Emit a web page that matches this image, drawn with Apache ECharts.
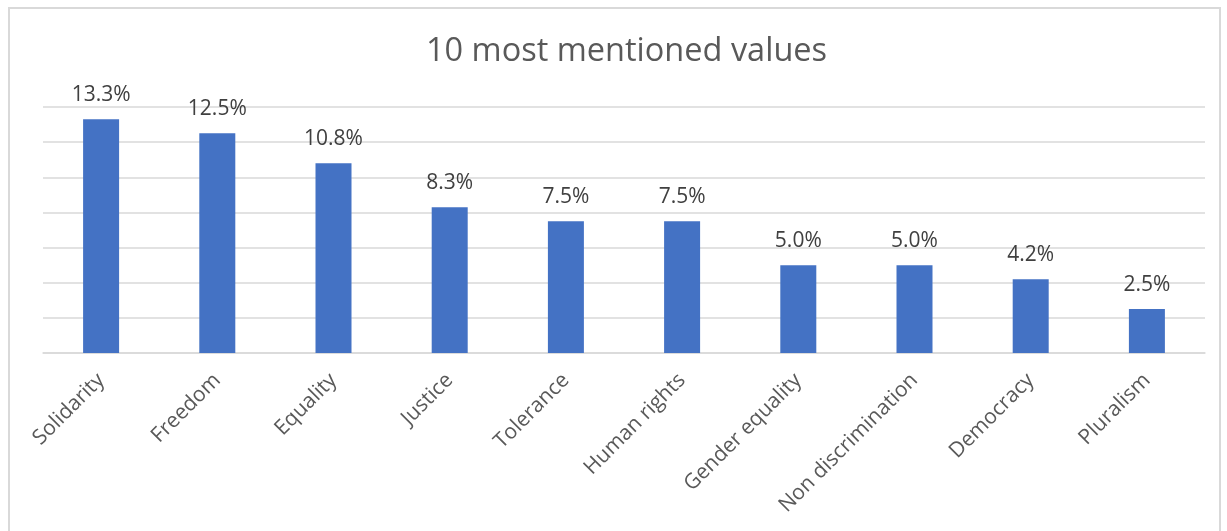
<!DOCTYPE html>
<html>
<head>
<meta charset="utf-8">
<script src="https://cdn.jsdelivr.net/npm/echarts@6/dist/echarts.min.js"></script>
<style>
html,body{margin:0;padding:0;background:#fff;}
#chart{width:1227px;height:531px;}
</style>
</head>
<body>
<div id="chart"></div>
<script>
const title = "10 most mentioned values";
const categories = ["Solidarity","Freedom","Equality","Justice","Tolerance","Human rights","Gender equality","Non discrimination","Democracy","Pluralism"];
const values = [13.3, 12.5, 10.8, 8.3, 7.5, 7.5, 5.0, 5.0, 4.2, 2.5];

const chart = echarts.init(document.getElementById('chart'));
chart.setOption({
  animation: false,
  backgroundColor: '#fff',
  graphic: [{
    type: 'rect',
    shape: { x: 9, y: 8, width: 1211, height: 600 },
    style: { fill: 'none', stroke: '#d9d9d9', lineWidth: 2 },
    silent: true
  }],
  title: {
    text: title,
    left: 421,
    top: 30,
    textStyle: { fontFamily: 'Open Sans', fontSize: 32.5, fontWeight: 'normal', color: '#595959' }
  },
  grid: { left: 43, right: 22, top: 107, bottom: 178, containLabel: false },
  xAxis: {
    type: 'category',
    data: categories,
    axisLine: { show: true, lineStyle: { color: '#d9d9d9', width: 1.5 } },
    axisTick: { show: false },
    axisLabel: {
      rotate: 45,
      margin: 24,
      interval: 0,
      color: '#595959',
      fontFamily: 'Open Sans',
      fontSize: 21
    }
  },
  yAxis: {
    type: 'value',
    min: 0,
    max: 14,
    interval: 2,
    axisLine: { show: false },
    axisTick: { show: false },
    axisLabel: { show: false },
    splitLine: { lineStyle: { color: '#d9d9d9', width: 1.5 } }
  },
  series: [{
    type: 'bar',
    data: values,
    barWidth: 36,
    itemStyle: { color: '#4472c4' },
    label: {
      show: true,
      position: 'top',
      distance: 14,
      formatter: p => p.value.toFixed(1) + '%',
      color: '#404040',
      fontFamily: 'Open Sans',
      fontSize: 21
    }
  }]
});
</script>
</body>
</html>
